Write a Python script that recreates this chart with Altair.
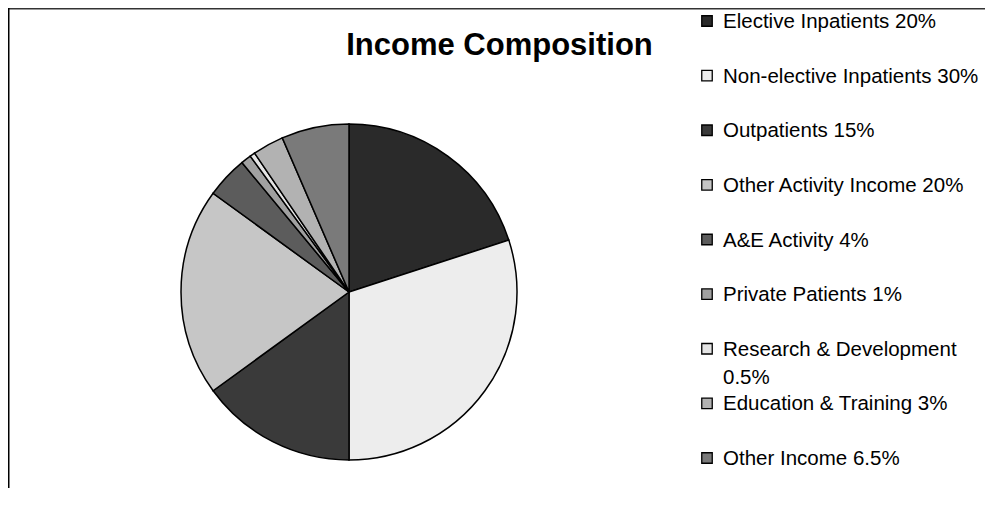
import altair as alt
import pandas as pd

title_text = "Income Composition"
categories = [
    "Elective Inpatients", "Non-elective Inpatients", "Outpatients",
    "Other Activity Income", "A&E Activity", "Private Patients",
    "Research & Development", "Education & Training", "Other Income",
]
shares = [20, 30, 15, 20, 4, 1, 0.5, 3, 6.5]
legend_text = [
    "Elective Inpatients 20%", "Non-elective Inpatients 30%", "Outpatients 15%",
    "Other Activity Income 20%", "A&E Activity 4%", "Private Patients 1%",
    "Research & Development\n0.5%", "Education & Training 3%", "Other Income 6.5%",
]
fills = ["#2a2a2a", "#ededed", "#3a3a3a", "#c6c6c6", "#5c5c5c",
         "#a0a0a0", "#e4e4e4", "#b2b2b2", "#7a7a7a"]

W, H = 977, 480
FONT = "Liberation Sans, Arial, sans-serif"

df = pd.DataFrame({
    "cat": categories,
    "share": shares,
    "idx": list(range(len(categories))),
    "legend": legend_text,
})

color = alt.Color("cat:N", scale=alt.Scale(domain=categories, range=fills), legend=None)

pie = alt.Chart(df).mark_arc(radius=168, stroke="black", strokeWidth=1.5).encode(
    theta=alt.Theta("share:Q", stack=True),
    order=alt.Order("idx:Q"),
    color=color,
    x=alt.value(341),
    y=alt.value(284),
)

ypos = alt.Y("idx:Q", scale=alt.Scale(domain=[0, 8], range=[13, 450]), axis=None)

swatches = alt.Chart(df).mark_square(size=110, stroke="black", strokeWidth=1.3, opacity=1).encode(
    x=alt.value(699),
    y=ypos,
    color=color,
)

labels = alt.Chart(df).mark_text(
    align="left", baseline="alphabetic", dy=7, fontSize=20.5, font=FONT,
    lineBreak="\n", lineHeight=28, color="black",
).encode(
    x=alt.value(715),
    y=ypos,
    text="legend:N",
)

title = alt.Chart(pd.DataFrame({"t": [title_text]})).mark_text(
    align="center", baseline="alphabetic", fontSize=31, fontWeight="bold", font=FONT, color="black",
).encode(
    x=alt.value(491.5),
    y=alt.value(47),
    text="t:N",
)

one = pd.DataFrame({"k": [0]})
top_rule = alt.Chart(one).mark_rule(color="#333333", strokeWidth=1.5).encode(
    x=alt.value(0), x2=alt.value(W), y=alt.value(0.75)
)
left_rule = alt.Chart(one).mark_rule(color="black", strokeWidth=1.5).encode(
    x=alt.value(0.75), y=alt.value(0), y2=alt.value(H)
)

chart = alt.layer(top_rule, left_rule, pie, swatches, labels, title).properties(
    width=W, height=H, padding=0, autosize="none", background="white"
).configure_view(stroke=None)

chart.save("out.html", embed_options={"renderer": "svg", "actions": False})
